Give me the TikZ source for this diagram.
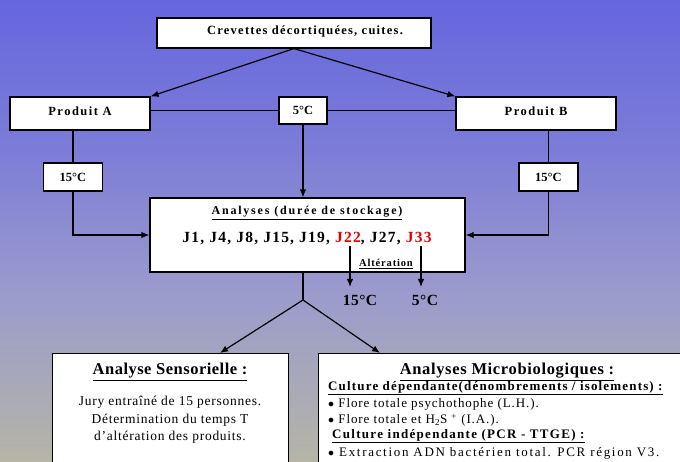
\documentclass[tikz,border=0pt]{standalone}
\usepackage{fontspec}
\setmainfont{Liberation Serif}
\usetikzlibrary{arrows.meta}
\definecolor{bgtop}{RGB}{102,102,222}
\definecolor{bgupper}{RGB}{124,124,216}
\definecolor{bgmid}{RGB}{156,156,204}
\definecolor{bglow}{RGB}{168,168,186}
\definecolor{bgbot}{RGB}{182,181,166}
\definecolor{jred}{RGB}{230,0,0}
% vertical fade of the backdrop, from the top edge (75bp) to the bottom edge (25bp)
\pgfdeclareverticalshading{skyfade}{100bp}{color(0bp)=(bgbot); color(25bp)=(bgbot); color(34bp)=(bglow); color(42.5bp)=(bgmid); color(59bp)=(bgupper); color(75bp)=(bgtop); color(100bp)=(bgtop)}
% font size, leading and letter spacing in one go
\newcommand{\fsl}[3]{\fontsize{#1}{#2}\selectfont\addfontfeature{LetterSpace=#3}}
\newcommand{\fs}[2]{\fsl{#1}{#1}{#2}}
\begin{document}
\begin{tikzpicture}[x=1pt,y=-1pt,
  box/.style={draw=black, line width=1.2pt, fill=white, inner sep=0pt},
  link/.style={draw=black, line width=1.2pt},
  arr/.style={link, -{Latex[length=8pt,width=6.5pt]}},
  bf/.style={font=\bfseries\fs{12.5}{12}, inner sep=0pt}]
\useasboundingbox (0,0) rectangle (680,462);
\clip (0,0) rectangle (680,462);
\fill[shading=skyfade] (0,0) rectangle (680,462);

% boxes of the upper part
\node[box, minimum width=274pt, minimum height=30pt] (top) at (294,33) {};
\node[bf, font=\bfseries\fs{12.5}{10}] at (305,31) {Crevettes décortiquées, cuites.};
\node[box, minimum width=140pt, minimum height=33pt] (prodA) at (80,113.5) {};
\node[bf] at (80,111) {Produit A};
\node[box, minimum width=48pt, minimum height=27pt] (five) at (303,110.5) {};
\node[bf, font=\bfseries\fs{12.5}{0}] at (five.center) {5°C};
\node[box, minimum width=160pt, minimum height=33pt] (prodB) at (536,113.5) {};
\node[bf] at (536,111) {Produit B};
\node[box, minimum width=59pt, minimum height=28pt] (fifL) at (73,177) {};
\node[bf, font=\bfseries\fs{12.5}{0}] at (fifL.center) {15°C};
\node[box, minimum width=59pt, minimum height=28pt] (fifR) at (548.5,177) {};
\node[bf, font=\bfseries\fs{12.5}{0}] at (fifR.center) {15°C};

% storage analyses
\node[box, minimum width=315pt, minimum height=74pt] (ana) at (307.5,235) {};
\node[bf, font=\bfseries\fs{12}{15}] at (307,213) {\underline{Analyses (durée de stockage)}};
\node[bf, font=\bfseries\fs{15.5}{8}] at (307,239) {J1, J4, J8, J15, J19, \textcolor{jred}{J22}, J27, \textcolor{jred}{J33}};
\node[bf, font=\bfseries\fs{10.5}{8}] at (386,264) {\underline{Altération}};
\coordinate (j22a) at (350,246);
\coordinate (j22b) at (350,287);
\coordinate (j33a) at (421,246);
\coordinate (j33b) at (421,287);
\node[bf, font=\bfseries\fs{15.5}{3}] at (360,300) {15°C};
\node[bf, font=\bfseries\fs{15.5}{3}] at (425,300) {5°C};

% connectors
\draw[arr] (top.south) -- (prodA.north east);
\draw[arr] (top.south) -- (prodB.north west);
\draw[link] (five.west) -- (five.west -| prodA.east);
\draw[link] (five.east) -- (five.east -| prodB.west);
\draw[arr] (five.south) -- (five.south |- ana.north);
\draw[link] (fifL.north) -- (fifL.north |- prodA.south);
\draw[link] (fifR.north) -- (fifR.north |- prodB.south);
\draw[arr] (fifL.south) |- (ana.west);
\draw[arr] (fifR.south) |- (ana.east);
\draw[arr] (j22a) -- (j22b);
\draw[arr] (j33a) -- (j33b);

% split towards the two analysis branches
\coordinate (split) at (303,300);
\coordinate (tipL) at (220,353);
\coordinate (tipR) at (380,353);
\draw[link] (ana.south -| split) -- (split);
\draw[arr] (split) -- (tipL);
\draw[arr] (split) -- (tipR);

% sensory analysis
\node[box, anchor=north west, minimum width=236pt, minimum height=130pt] (sens) at (52,353) {};
\node[bf, font=\bfseries\fs{16.5}{3}] at (170,372) {\underline{Analyse Sensorielle :}};
\node[inner sep=0pt, align=center, font=\fsl{13.5}{17.5}{5.5}, anchor=north] at (170,396)
  {Jury entraîné de 15 personnes.\\Détermination du temps T\\d’altération des produits.};

% microbiological analyses
\node[box, anchor=north west, minimum width=380pt, minimum height=130pt] (micro) at (318,353) {};
\node[bf, font=\bfseries\fs{16.5}{4}] at (507,372) {\underline{Analyses Microbiologiques :}};
\node[bf, anchor=west, font=\bfseries\fs{13}{9}] at (328,388) {\underline{Culture dépendante(dénombrements / isolements) :}};
\node[inner sep=0pt, anchor=west, font=\fs{13}{7}] at (328,404) {$\bullet$ Flore totale psychothophe (L.H.).};
\node[inner sep=0pt, anchor=west, font=\fs{13}{7}] at (328,420) {$\bullet$ Flore totale et H\textsubscript{2}S \textsuperscript{+} (I.A.).};
\node[bf, anchor=west, font=\bfseries\fs{13}{10}] at (332,436) {\underline{Culture indépendante (PCR - TTGE) :}};
\node[inner sep=0pt, anchor=west, font=\fs{13}{13}] at (328,453) {$\bullet$ Extraction ADN bactérien total. PCR région V3.};
\end{tikzpicture}
\end{document}
